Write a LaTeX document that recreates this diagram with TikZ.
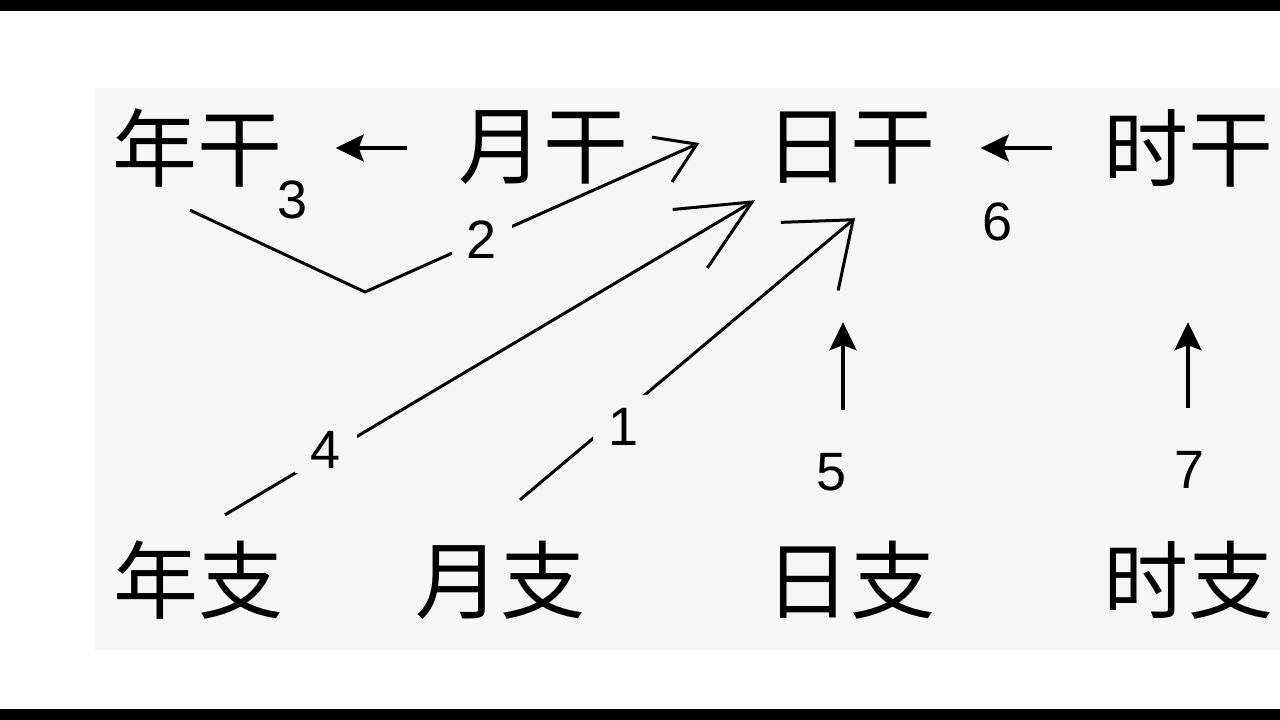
\documentclass[tikz,border=0pt]{standalone}
\usepackage{fontspec}
\setmainfont{Liberation Sans}
\newfontfamily\cjk{Noto Sans CJK SC}
\usetikzlibrary{arrows.meta}
\definecolor{bg}{HTML}{F6F6F6}
\begin{document}
\begin{tikzpicture}[
    x=1pt, y=1pt,
    zhu/.style={font=\cjk\fontsize{85}{85}\selectfont, inner sep=0pt,
      minimum width=165pt, minimum height=85pt},
    num/.style={font=\fontsize{54}{54}\selectfont, inner sep=0pt},
    numgap/.style={num, fill=bg, minimum width=#1, minimum height=46pt},
    ptr/.style={line width=3.6pt, -{Stealth[length=28pt,width=27pt,inset=5pt]}},
    barbline/.style 2 args={line width=3pt, -{Straight Barb[length=#1,width=#2]}},
  ]
  \useasboundingbox (0,0) rectangle (1280,720);
  \fill[white] (0,0) rectangle (1280,720);
  \fill[bg] (95,70) rectangle (1280,632);
  \fill[black] (0,0) rectangle (1280,11);
  \fill[black] (0,709) rectangle (1280,720);
  \node[zhu] (ng) at (197,572) {年干};
  \node[zhu] (yg) at (543,572) {月干};
  \node[zhu] (rg) at (850,572) {日干};
  \node[zhu] (sg) at (1188,572) {时干};
  \node[zhu] (nz) at (198,140) {年支};
  \node[zhu] (yz) at (500,140) {月支};
  \node[zhu] (rz) at (850,140) {日支};
  \node[zhu] (sz) at (1188,140) {时支};
  \node[num] (l3) at (293,520) {3};
  \node[num] (l5) at (832,248) {5};
  \node[num] (l6) at (998,498) {6};
  \node[num] (l7) at (1190,250) {7};
  \draw[ptr, shorten <=50.5pt, shorten >=53.5pt] (yg.west) -- (ng.east);
  \draw[ptr, shorten <=50.5pt, shorten >=45.5pt] (sg.west) -- (rg.east);
  \draw[ptr, shorten <=127.5pt, shorten >=131.5pt] ([xshift=-7pt]rz.north) -- ([xshift=-7pt]rg.south);
  \draw[ptr, shorten <=129.5pt, shorten >=131.5pt] (sz.north) -- (sg.south);
  \coordinate (v) at (365,428);
  \draw[barbline={38pt}{49pt}] ([shift={(-7,-19.5)}]ng.south) -- (v)
    -- node[numgap=60pt, pos=.35] (l2) {2} ([shift={(-65.5,5)}]rg.west);
  \draw[barbline={72pt}{68pt}] ([shift={(27,22.5)}]nz.north)
    -- node[numgap=62pt, pos=.19, yshift=5pt] (l4) {4} ([shift={(-95,-9.5)}]rg.south);
  \draw[barbline={57pt}{89pt}] ([shift={(20,37.5)}]yz.north)
    -- node[numgap=62pt, minimum height=62pt, pos=.31, yshift=-14pt] (l1) {1} ([shift={(5,-27.5)}]rg.south);
\end{tikzpicture}
\end{document}
